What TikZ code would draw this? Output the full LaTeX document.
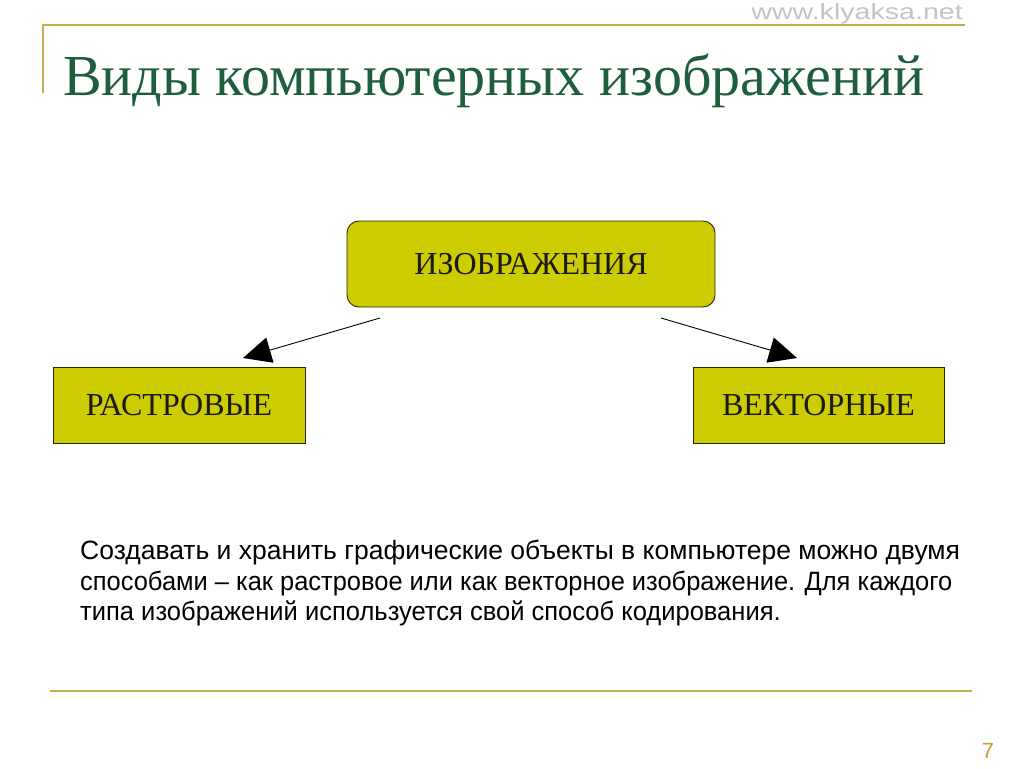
\documentclass[tikz,border=0pt]{standalone}
\usepackage{fontspec}
\setmainfont{Liberation Serif}
\newfontfamily\arialf{Liberation Sans}
\usetikzlibrary{arrows.meta}
\definecolor{boxfill}{HTML}{CCCC00}
\definecolor{titlegreen}{HTML}{1E5E3E}
\definecolor{goldline}{HTML}{C8AC4A}
\definecolor{pagegold}{HTML}{C9A227}
\definecolor{wmgray}{HTML}{C4C4C4}
\tikzset{
  ybox/.style={draw=black!80!boxfill, line width=0.9pt, fill=boxfill, inner sep=0pt,
    font=\fontsize{32}{36}\selectfont, text=black!90},
  conn/.style={line width=0.9pt, -{Triangle[length=28pt,width=26pt]}},
  rule/.style={draw=goldline, line width=2pt}
}
\begin{document}
\begin{tikzpicture}[x=1pt,y=-1pt]
\useasboundingbox (0,0) rectangle (1024,768);
\fill[white] (0,0) rectangle (1024,768);
% header rules
\draw[rule] (42,25) -- (965,25);
\draw[rule] (43,25) -- (43,93);
\draw[rule] (50,691) -- (972,691);
% watermark
\node[anchor=base east, text=wmgray, font=\arialf\fontsize{22}{24}\selectfont, inner sep=0pt] (wm) at (963,20) {\scalebox{1.3}[1]{www.klyaksa.net}};
% title
\node[anchor=base west, text=titlegreen, font=\fontsize{58}{64}\selectfont, inner sep=0pt] (title) at (63,95) {Виды компьютерных изображений};
% boxes
\node[ybox, rounded corners=12pt, minimum width=368pt, minimum height=86pt] (img) at (531,264) {ИЗОБРАЖЕНИЯ};
\node[ybox, minimum width=252pt, minimum height=76pt] (rast) at (179,405) {РАСТРОВЫЕ};
\node[ybox, minimum width=251pt, minimum height=76pt] (vect) at (818.5,405) {ВЕКТОРНЫЕ};
% connectors
\coordinate (ls) at (380,318);
\coordinate (le) at (243,358);
\coordinate (rs) at (661,318);
\coordinate (re) at (797,358);
\draw[conn] (ls) -- (le);
\draw[conn] (rs) -- (re);
% paragraph
\node[anchor=north west, inner sep=0pt, align=left, font=\arialf\fontsize{26.5}{30.5}\selectfont] (para) at (80,540)
{Создавать и хранить графические объекты в компьютере можно двумя\\
\scalebox{0.96}[1]{способами – как растровое или как векторное изображение. Для каждого}\\
\scalebox{0.963}[1]{типа изображений используется свой способ кодирования.}};
% page number
\node[anchor=base, text=pagegold, font=\arialf\fontsize{22}{24}\selectfont, inner sep=0pt] (pg) at (988,758) {7};
\end{tikzpicture}
\end{document}
